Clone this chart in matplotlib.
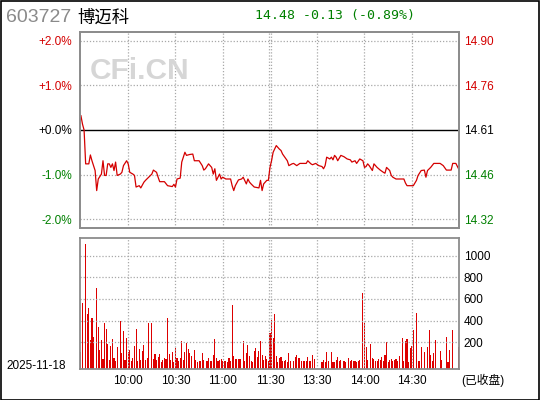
import matplotlib
matplotlib.use('Agg')
import matplotlib.pyplot as plt
from matplotlib.patches import Rectangle

plt.rcParams['font.family'] = ['Liberation Sans', 'Noto Sans CJK SC']

# --- data -------------------------------------------------------------
code = '603727'
name = '博迈科'
date = '2025-11-18'
pre_close = 14.61
last_price = 14.48
change = -0.13
change_pct = -0.89

# minute index (0 = 9:30, 240 = 15:00) and % change of the price line
line_minutes = [0, 1, 2, 3, 5, 6, 7, 9, 10, 11, 13, 14, 15, 16, 17, 18, 19, 20,
                21, 22, 23, 25, 26, 27, 29, 30, 31, 33, 34, 35, 37, 38, 40, 41,
                43, 45, 46, 48, 49, 50, 53, 55, 58, 59, 60, 61, 63, 64, 65, 66,
                67, 69, 71, 72, 75, 77, 78, 79, 81, 83, 84, 85, 86, 87, 88, 89,
                90, 92, 95, 96, 97, 98, 100, 102, 103, 105, 106, 107, 108, 110,
                113, 114, 115, 116, 117, 118, 119, 120, 121, 122, 124, 126, 127,
                128, 131, 132, 134, 135, 137, 139, 143, 144, 146, 147, 149, 151,
                153, 154, 155, 156, 158, 159, 160, 161, 162, 163, 165, 167, 169,
                171, 172, 174, 175, 177, 179, 180, 181, 182, 183, 185, 186, 188,
                190, 192, 193, 194, 196, 197, 198, 200, 205, 206, 207, 211, 213,
                214, 216, 218, 219, 220, 222, 224, 228, 230, 232, 235, 236, 238,
                240]
line_pct = [0.32, 0.13, 0.00, -0.76, -0.76, -0.56, -0.69, -0.91, -1.36, -1.10,
            -0.99, -0.69, -1.02, -1.02, -0.76, -0.76, -0.84, -0.76, -0.91, -0.72,
            -1.02, -0.99, -0.95, -0.80, -0.69, -0.76, -0.95, -0.99, -1.02, -1.28,
            -1.25, -1.30, -1.17, -1.13, -1.06, -0.99, -0.90, -0.95, -1.06, -1.16,
            -1.16, -1.25, -1.27, -1.22, -1.28, -1.10, -1.08, -0.72, -0.61, -0.50,
            -0.57, -0.55, -0.54, -0.69, -0.69, -0.80, -0.90, -0.87, -0.76, -0.84,
            -0.99, -0.87, -1.13, -1.06, -0.99, -1.10, -1.06, -1.10, -1.10, -1.25,
            -1.36, -1.25, -1.12, -1.10, -1.06, -1.21, -1.10, -1.17, -1.21, -1.28,
            -1.30, -1.13, -1.36, -1.21, -1.17, -1.13, -1.13, -0.84, -0.69, -0.50,
            -0.35, -0.43, -0.46, -0.54, -0.69, -0.80, -0.76, -0.75, -0.80, -0.75,
            -0.75, -0.69, -0.76, -0.78, -0.75, -0.80, -0.82, -0.87, -0.80, -0.61,
            -0.65, -0.61, -0.67, -0.57, -0.61, -0.69, -0.57, -0.60, -0.65, -0.67,
            -0.72, -0.69, -0.75, -0.65, -0.69, -0.84, -0.82, -0.76, -0.80, -0.91,
            -0.76, -0.84, -0.90, -0.95, -0.97, -0.84, -0.91, -1.02, -1.06, -1.10,
            -1.10, -1.19, -1.25, -1.25, -1.13, -1.02, -0.91, -0.90, -1.06, -0.91,
            -0.84, -0.75, -0.75, -0.80, -0.90, -0.90, -0.75, -0.75, -0.89]

# volume per minute, 9:30 .. 15:00
volume = [111, 564, 0, 1112, 462, 517, 225, 425, 249, 0, 702, 342, 129, 222, 45,
          379, 323, 185, 40, 166, 231, 55, 28, 157, 0, 397, 102, 305, 37, 240,
          111, 129, 28, 55, 166, 323, 28, 139, 37, 120, 176, 37, 55, 379, 0,
          379, 46, 92, 37, 65, 92, 20, 37, 55, 46, 425, 92, 37, 111, 18,
          148, 55, 28, 55, 212, 37, 111, 194, 139, 102, 74, 0, 129, 37, 18,
          28, 28, 102, 37, 0, 30, 55, 30, 28, 83, 231, 55, 28, 37, 46,
          30, 28, 30, 18, 55, 28, 545, 74, 46, 46, 46, 46, 0, 212, 28,
          102, 176, 74, 28, 18, 120, 148, 65, 120, 212, 83, 37, 74, 46, 28,
          287, 407, 240, 462, 74, 18, 55, 65, 30, 28, 37, 18, 102, 30, 0,
          28, 65, 83, 55, 55, 30, 30, 28, 30, 65, 30, 28, 83, 46, 0,
          0, 0, 0, 18, 37, 18, 111, 30, 0, 111, 18, 18, 37, 65, 30,
          37, 0, 30, 18, 0, 55, 30, 37, 30, 30, 18, 28, 37, 0, 659,
          379, 157, 37, 0, 185, 55, 46, 28, 30, 46, 37, 65, 28, 83, 203,
          18, 37, 46, 28, 37, 46, 28, 74, 0, 240, 28, 212, 231, 18, 148,
          166, 314, 0, 471, 28, 28, 157, 0, 111, 0, 157, 314, 83, 28, 102,
          222, 0, 0, 120, 37, 0, 0, 249, 18, 129, 0, 314, 0, 0, 0, 157]

pct_ticks = [2, 1, 0, -1, -2]
time_ticks = [30, 60, 90, 120, 150, 180, 210]
time_labels = ['10:00', '10:30', '11:00', '11:30', '13:30', '14:00', '14:30']
vol_ticks = [200, 400, 600, 800, 1000]

RED = '#d40000'
GREEN = '#008000'
GRID = '#a8a8a8'
SPINE = '#8c8c8c'
FS = 8.5


def tick_color(v):
    if v > 0:
        return RED
    if v < 0:
        return GREEN
    return 'black'


def time_grid(a):
    # 11:30 / 13:00 share one spot, drawn as a double line
    for t in time_ticks:
        spots = (119.5, 120.5) if t == 120 else (t,)
        for tt in spots:
            a.axvline(tt, color=GRID, ls=(0, (1, 1.5)), lw=0.9)


fig = plt.figure(figsize=(5.4, 4.0), dpi=100)
fig.patch.set_facecolor('white')
fig.add_artist(Rectangle((0.001, 0.001), 0.997, 0.996, transform=fig.transFigure,
                         fill=False, edgecolor='black', linewidth=1.2))

# header
fig.text(0.012, 0.957, code, color='#8a8a8a', fontsize=14, va='center')
fig.text(0.143, 0.957, name, color='black', fontsize=12.5, va='center',
         family='Noto Sans CJK SC')
fig.text(0.472, 0.962, f'{last_price:.2f} {change:.2f} ({change_pct:.2f}%)',
         color=GREEN, fontsize=9.5, va='center', family='DejaVu Sans Mono')

# --- price panel --------------------------------------------------------
ax = fig.add_axes([0.149, 0.43, 0.7019, 0.49])
xmin, xmax = -0.3, 240.3
ax.set_xlim(xmin, xmax)
ax.set_ylim(-2.2, 2.2)
time_grid(ax)
for v in pct_ticks:
    if v == 0:
        ax.axhline(v, color='black', lw=1.0)
    else:
        ax.axhline(v, color=GRID, ls=(0, (1, 1.5)), lw=0.9)
ax.plot(line_minutes, line_pct, color=RED, lw=0.9)

ax.text(0.025, 0.8, 'CFi.CN', transform=ax.transAxes, fontsize=21.5,
        fontweight='bold', color='#d6d6d6', va='center')

ax.set_xticks([])
ax.set_yticks(pct_ticks)
ax.set_yticklabels([f'{v:+.1f}%' for v in pct_ticks], fontsize=FS)
for lab, v in zip(ax.get_yticklabels(), pct_ticks):
    lab.set_color(tick_color(v))
ax.tick_params(axis='y', length=0, pad=6)

ax2 = ax.twinx()
ax2.set_ylim(ax.get_ylim())
ax2.set_yticks(pct_ticks)
ax2.set_yticklabels([f'{pre_close * (1 + v / 100):.2f}' for v in pct_ticks],
                    fontsize=FS)
for lab, v in zip(ax2.get_yticklabels(), pct_ticks):
    lab.set_color(tick_color(v))
ax2.tick_params(axis='y', length=0, pad=3)

for a in (ax, ax2):
    for s in a.spines.values():
        s.set_color(SPINE)
        s.set_linewidth(1.3)

# --- volume panel ---------------------------------------------------------
bx = fig.add_axes([0.149, 0.0768, 0.7019, 0.328])
bx.set_xlim(xmin, xmax)
vbot = -50
bx.set_ylim(vbot, 1163)
time_grid(bx)
for v in vol_ticks:
    bx.axhline(v, color=GRID, ls=(0, (1, 1.5)), lw=0.9)

mins = [i for i, v in enumerate(volume) if v > 0]
vals = [v - vbot for v in volume if v > 0]
bx.bar(mins, vals, bottom=vbot, width=0.7, color='#dd0000', linewidth=0)

bx.set_xticks(time_ticks)
bx.set_xticklabels(time_labels, fontsize=FS)
bx.tick_params(axis='x', length=0, pad=4)
bx.yaxis.tick_right()
bx.set_yticks(vol_ticks)
bx.set_yticklabels([str(v) for v in vol_ticks], fontsize=FS)
bx.tick_params(axis='y', length=0, pad=3)
for s in bx.spines.values():
    s.set_color(SPINE)
    s.set_linewidth(1.3)

fig.text(0.012, 0.085, date, fontsize=FS, va='center')
fig.text(0.855, 0.048, '(已收盘)', fontsize=FS, va='center')

fig.savefig('out.png', dpi=100)
plt.close(fig)
